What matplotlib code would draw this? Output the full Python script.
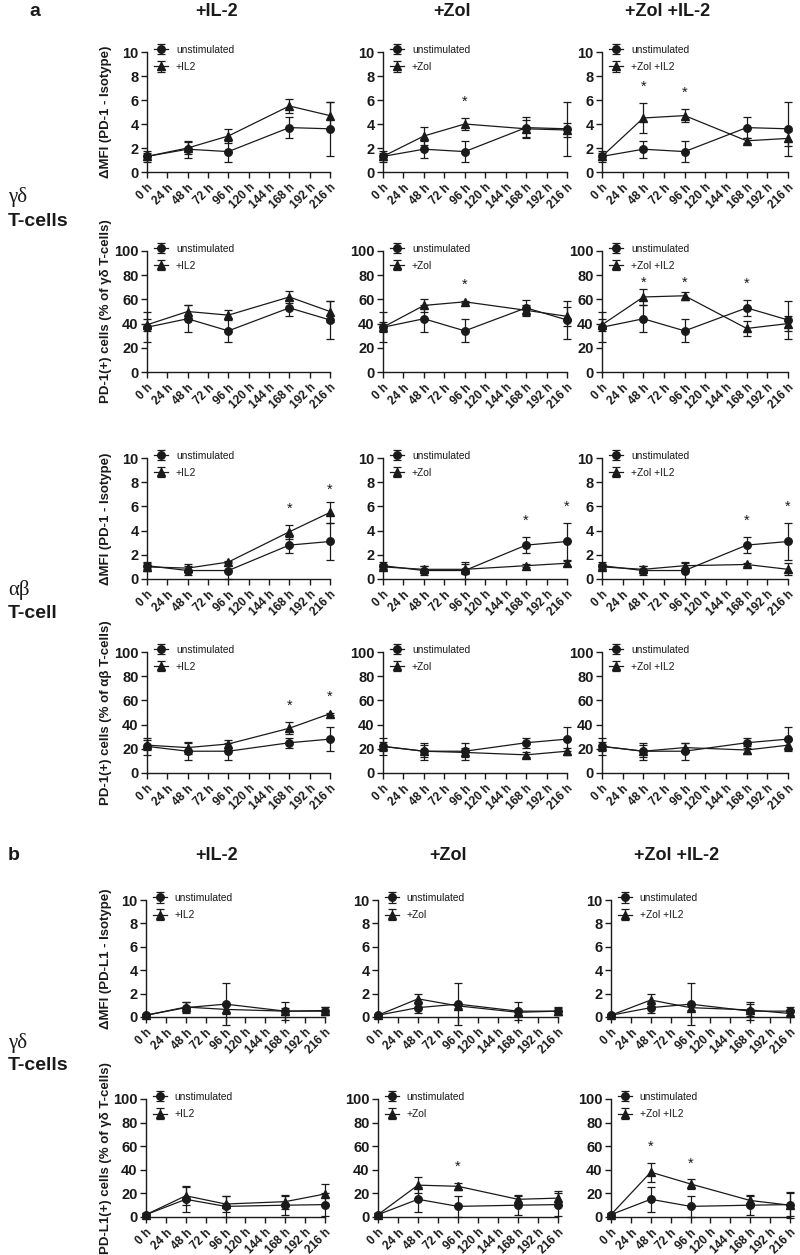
import matplotlib
matplotlib.use("Agg")
import matplotlib.pyplot as plt

plt.rcParams['font.family'] = ['Liberation Sans', 'DejaVu Sans']

hours = [0, 48, 96, 168, 216]
tick_hours = [0, 24, 48, 72, 96, 120, 144, 168, 192, 216]
tick_labels = ["0 h", "24 h", "48 h", "72 h", "96 h", "120 h", "144 h", "168 h", "192 h", "216 h"]

col_titles = ["+IL-2", "+Zol", "+Zol +IL-2"]
treat_labels = ["+IL2", "+Zol", "+Zol +IL2"]

# ---- Row 1: gamma-delta, dMFI PD-1 ----
r1_unstim = [1.3, 1.9, 1.7, 3.7, 3.6]
r1_unstim_err = [0.45, 0.7, 0.85, 0.9, 2.25]
r1_il2 = [1.3, 2.0, 3.0, 5.5, 4.7]
r1_il2_err = [0.3, 0.5, 0.55, 0.6, 1.1]
r1_zol = [1.3, 3.0, 4.0, 3.6, 3.5]
r1_zol_err = [0.3, 0.75, 0.5, 0.7, 0.6]
r1_zolil2 = [1.3, 4.5, 4.7, 2.6, 2.8]
r1_zolil2_err = [0.3, 1.25, 0.55, 0.2, 0.6]
r1_stars = [[], [96], [48, 96]]

# ---- Row 2: gamma-delta, PD-1(+) % ----
r2_unstim = [37, 44, 34, 53, 43]
r2_unstim_err = [12.5, 11, 9.5, 6.5, 15.5]
r2_il2 = [39, 50, 47, 62, 50]
r2_il2_err = [5, 5, 4, 5, 9]
r2_zol = [37, 55, 58, 51, 46]
r2_zol_err = [4, 5, 1, 4, 8]
r2_zolil2 = [39, 62, 63, 36, 40]
r2_zolil2_err = [5, 7, 3.5, 6, 6]
r2_stars = [[], [96], [48, 96, 168]]

# ---- Row 3: alpha-beta, dMFI PD-1 ----
r3_unstim = [1.1, 0.7, 0.7, 2.8, 3.1]
r3_unstim_err = [0.3, 0.4, 0.7, 0.65, 1.55]
r3_il2 = [1.0, 0.9, 1.4, 3.9, 5.5]
r3_il2_err = [0.3, 0.3, 0.1, 0.6, 0.9]
r3_zol = [1.0, 0.8, 0.8, 1.1, 1.3]
r3_zol_err = [0.2, 0.3, 0.4, 0.1, 0.2]
r3_zolil2 = [1.0, 0.8, 1.1, 1.2, 0.8]
r3_zolil2_err = [0.2, 0.3, 0.2, 0.1, 0.5]
r3_stars = [[168, 216], [168, 216], [168, 216]]

# ---- Row 4: alpha-beta, PD-1(+) % ----
r4_unstim = [22, 18, 18, 25, 28]
r4_unstim_err = [7, 7, 7, 4, 10]
r4_il2 = [23, 21, 24, 37, 49]
r4_il2_err = [4, 5, 3, 5, 1]
r4_zol = [22, 18, 17, 15, 18]
r4_zol_err = [4, 5, 4, 2, 3]
r4_zolil2 = [22, 18, 21, 19, 23]
r4_zolil2_err = [4, 5, 4, 3, 4]
r4_stars = [[168, 216], [], []]

# ---- Row 5: gamma-delta, dMFI PD-L1 ----
r5_unstim = [0.15, 0.8, 1.1, 0.5, 0.5]
r5_unstim_err = [0.1, 0.5, 1.8, 0.75, 0.35]
r5_il2 = [0.15, 0.85, 0.65, 0.5, 0.55]
r5_il2_err = [0.1, 0.45, 0.4, 0.3, 0.3]
r5_zol = [0.15, 1.55, 0.95, 0.4, 0.5]
r5_zol_err = [0.1, 0.45, 0.2, 0.2, 0.3]
r5_zolil2 = [0.15, 1.45, 0.8, 0.6, 0.3]
r5_zolil2_err = [0.1, 0.55, 0.2, 0.5, 0.3]
r5_stars = [[], [], []]

# ---- Row 6: gamma-delta, PD-L1(+) % ----
r6_unstim = [2, 15, 9, 10, 10.5]
r6_unstim_err = [1.5, 10.5, 9, 8, 10]
r6_il2 = [2, 18, 11, 13, 19.5]
r6_il2_err = [1.5, 8, 7, 6, 8.5]
r6_zol = [2, 27, 26, 15, 16]
r6_zol_err = [1.5, 7, 3, 4, 6]
r6_zolil2 = [2, 38, 28, 14, 10]
r6_zolil2_err = [1.5, 8, 4, 5, 11]
r6_stars = [[], [96], [48, 96]]

ylabels = ["ΔMFI (PD-1 - Isotype)",
           "PD-1(+) cells (% of γδ T-cells)",
           "ΔMFI (PD-1 - Isotype)",
           "PD-1(+) cells (% of αβ T-cells)",
           "ΔMFI (PD-L1 - Isotype)",
           "PD-L1(+) cells (% of γδ T-cells)"]

rows = [
    (r1_unstim, r1_unstim_err, [(r1_il2, r1_il2_err), (r1_zol, r1_zol_err), (r1_zolil2, r1_zolil2_err)], r1_stars, 10),
    (r2_unstim, r2_unstim_err, [(r2_il2, r2_il2_err), (r2_zol, r2_zol_err), (r2_zolil2, r2_zolil2_err)], r2_stars, 100),
    (r3_unstim, r3_unstim_err, [(r3_il2, r3_il2_err), (r3_zol, r3_zol_err), (r3_zolil2, r3_zolil2_err)], r3_stars, 10),
    (r4_unstim, r4_unstim_err, [(r4_il2, r4_il2_err), (r4_zol, r4_zol_err), (r4_zolil2, r4_zolil2_err)], r4_stars, 100),
    (r5_unstim, r5_unstim_err, [(r5_il2, r5_il2_err), (r5_zol, r5_zol_err), (r5_zolil2, r5_zolil2_err)], r5_stars, 10),
    (r6_unstim, r6_unstim_err, [(r6_il2, r6_il2_err), (r6_zol, r6_zol_err), (r6_zolil2, r6_zolil2_err)], r6_stars, 100),
]

W, H = 800, 1255
fig = plt.figure(figsize=(W / 100, H / 100), dpi=100)

row_px = [(52, 172), (251, 372), (458, 579), (652, 773), (900, 1017), (1099, 1217)]
cols_a = [(147, 330), (383, 567), (602, 788)]
cols_b = [(146, 325), (378, 558), (611, 790)]

C = "#1a1a1a"

for ri, (unst, unst_err, treated, stars, ymax) in enumerate(rows):
    cols = cols_a if ri < 4 else cols_b
    yt, yb = row_px[ri]
    for ci in range(3):
        x0, x1 = cols[ci]
        ax = fig.add_axes([x0 / W, 1 - yb / H, (x1 - x0) / W, (yb - yt) / H])
        tv, te = treated[ci]
        ax.errorbar(hours, unst, yerr=unst_err, color=C, marker='o', ms=5.4, lw=0.9,
                    elinewidth=0.9, capsize=3, capthick=0.9, clip_on=False, zorder=3,
                    label="unstimulated")
        ax.errorbar(hours, tv, yerr=te, color=C, marker='^', ms=5.4, lw=0.9,
                    elinewidth=0.9, capsize=3, capthick=0.9, clip_on=False, zorder=3,
                    label=treat_labels[ci])
        for h in stars[ci]:
            i = hours.index(h)
            top = max(unst[i] + unst_err[i], tv[i] + te[i])
            sy = min(top + ymax * 0.075, ymax * 0.68)
            ax.text(h, sy, "*", ha='center', va='bottom', fontsize=10.5, color=C)
        ax.set_xlim(0, 216)
        ax.set_ylim(0, ymax)
        ax.set_yticks([ymax * k / 5 for k in range(6)])
        ax.set_yticklabels([f"{int(ymax * k / 5)}" for k in range(6)], fontweight='bold', fontsize=10.5)
        ax.set_xticks(tick_hours)
        ax.set_xticklabels(tick_labels, rotation=45, ha='right', rotation_mode='anchor',
                           fontweight='bold', fontsize=8.5)
        for s in ['top', 'right']:
            ax.spines[s].set_visible(False)
        for s in ['left', 'bottom']:
            ax.spines[s].set_linewidth(1.0)
            ax.spines[s].set_color(C)
        ax.tick_params(direction='out', length=4, width=1.0, colors=C, pad=2)
        ax.tick_params(axis='x', pad=3)
        leg = ax.legend(loc='upper left', bbox_to_anchor=(0.04, 1.06), frameon=False,
                        fontsize=7.4, handlelength=1.3, handletextpad=0.8,
                        labelspacing=0.7, borderpad=0, borderaxespad=0)
        for t in leg.get_texts():
            t.set_color(C)
        if ci == 0:
            ax.set_ylabel(ylabels[ri], fontweight='bold', fontsize=9.5, color=C)
            ax.yaxis.set_label_coords(-0.19, 0.5)

# Section / column titles
fig.text(35 / W, 1 - 12 / H, "a", fontsize=14, fontweight='bold', ha='center', va='center', color=C)
fig.text(8 / W, 1 - 855 / H, "b", fontsize=14, fontweight='bold', ha='left', va='center', color=C)
for x, t in zip([217, 452, 668], col_titles):
    fig.text(x / W, 1 - 12 / H, t, fontsize=13, fontweight='bold', ha='center', va='center', color=C)
for x, t in zip([217, 448, 677], col_titles):
    fig.text(x / W, 1 - 856 / H, t, fontsize=13, fontweight='bold', ha='center', va='center', color=C)

# Row labels
serif = ['Liberation Serif', 'DejaVu Serif']
for (gy, ty, g, tl) in [(197, 222, "γδ", "T-cells"), (590, 613, "αβ", "T-cell"), (1043, 1066, "γδ", "T-cells")]:
    fig.text(8 / W, 1 - gy / H, g, fontsize=15, family=serif, ha='left', va='center', color=C)
    fig.text(8 / W, 1 - ty / H, tl, fontsize=14, fontweight='bold', ha='left', va='center', color=C)

fig.savefig("out.png", dpi=100)
